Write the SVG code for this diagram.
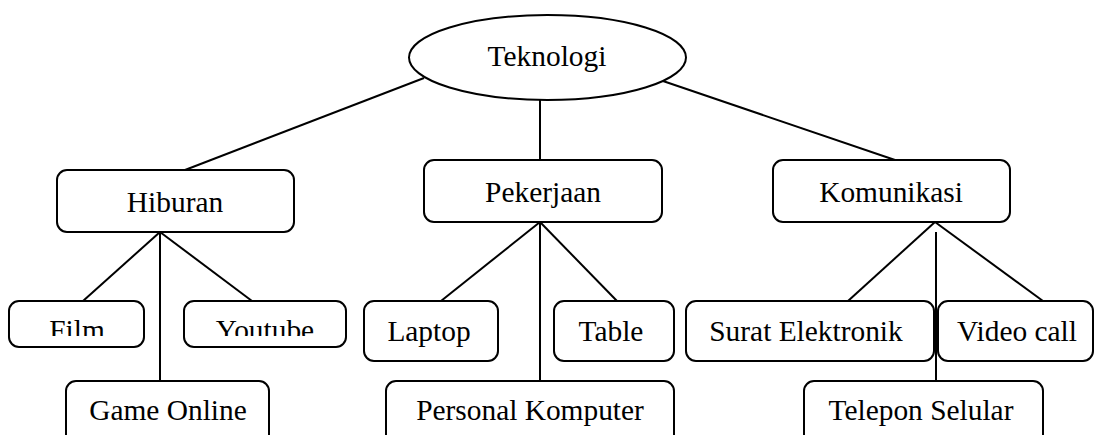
<svg xmlns="http://www.w3.org/2000/svg" width="1095" height="435" viewBox="0 0 1095 435">
  <style>
    .box { fill: #ffffff; stroke: #000000; stroke-width: 2; }
    .lbl { font-size: 29.4px; fill: #000000; text-anchor: middle; }
    .link { stroke: #000000; stroke-width: 2; fill: none; }
  </style>
  <defs>
    <clipPath id="clipFilm"><rect x="0" y="300" width="150" height="36"/></clipPath>
    <clipPath id="clipYoutube"><rect x="180" y="300" width="170" height="36"/></clipPath>
  </defs>
  <rect width="1095" height="435" fill="#ffffff"/>

  <g id="connectors">
    <line class="link" x1="424" y1="78" x2="185" y2="170"/>
    <line class="link" x1="540" y1="100" x2="540" y2="160"/>
    <line class="link" x1="660" y1="80" x2="895" y2="160"/>
    <line class="link" x1="160" y1="232" x2="83" y2="301"/>
    <line class="link" x1="160" y1="232" x2="160" y2="381"/>
    <line class="link" x1="160" y1="232" x2="252" y2="301"/>
    <line class="link" x1="540" y1="222" x2="441" y2="301"/>
    <line class="link" x1="540" y1="222" x2="540" y2="381"/>
    <line class="link" x1="540" y1="222" x2="617" y2="301"/>
    <line class="link" x1="935" y1="222" x2="848" y2="301"/>
    <line class="link" x1="936" y1="232" x2="936" y2="381"/>
    <line class="link" x1="935" y1="222" x2="1043" y2="301"/>
  </g>

  <g font-family="Liberation Serif, Tinos, DejaVu Serif, serif">
  <g id="teknologi">
    <ellipse class="box" cx="547.5" cy="57.5" rx="138.5" ry="42.5"/>
    <text class="lbl" x="547" y="66">Teknologi</text>
  </g>

  <g id="hiburan">
    <rect class="box" x="57" y="170" width="237" height="62" rx="10"/>
    <text class="lbl" x="175" y="212">Hiburan</text>
  </g>
  <g id="pekerjaan">
    <rect class="box" x="424" y="160" width="238" height="62" rx="10"/>
    <text class="lbl" x="543" y="202">Pekerjaan</text>
  </g>
  <g id="komunikasi">
    <rect class="box" x="773" y="160" width="237" height="62" rx="10"/>
    <text class="lbl" x="891" y="202">Komunikasi</text>
  </g>

  <g id="film">
    <rect class="box" x="9" y="301" width="135" height="46" rx="10"/>
    <text class="lbl" x="77" y="340" clip-path="url(#clipFilm)">Film</text>
  </g>
  <g id="youtube">
    <rect class="box" x="184" y="301" width="162" height="46" rx="10"/>
    <text class="lbl" x="265" y="340" clip-path="url(#clipYoutube)">Youtube</text>
  </g>
  <g id="game-online">
    <rect class="box" x="66" y="381" width="203" height="80" rx="10"/>
    <text class="lbl" x="168" y="420">Game Online</text>
  </g>

  <g id="laptop">
    <rect class="box" x="364" y="301" width="134" height="60" rx="10"/>
    <text class="lbl" x="429" y="341">Laptop</text>
  </g>
  <g id="table">
    <rect class="box" x="554" y="301" width="120" height="60" rx="10"/>
    <text class="lbl" x="611" y="341">Table</text>
  </g>
  <g id="personal-komputer">
    <rect class="box" x="386" y="381" width="288" height="80" rx="10"/>
    <text class="lbl" x="530" y="420">Personal Komputer</text>
  </g>

  <g id="surat-elektronik">
    <rect class="box" x="686" y="301" width="248" height="60" rx="10"/>
    <text class="lbl" x="806" y="341">Surat Elektronik</text>
  </g>
  <g id="video-call">
    <rect class="box" x="938" y="301" width="155" height="60" rx="10"/>
    <text class="lbl" x="1017" y="341">Video call</text>
  </g>
  <g id="telepon-selular">
    <rect class="box" x="804" y="381" width="239" height="80" rx="10"/>
    <text class="lbl" x="921" y="420">Telepon Selular</text>
  </g>
  </g>
</svg>
